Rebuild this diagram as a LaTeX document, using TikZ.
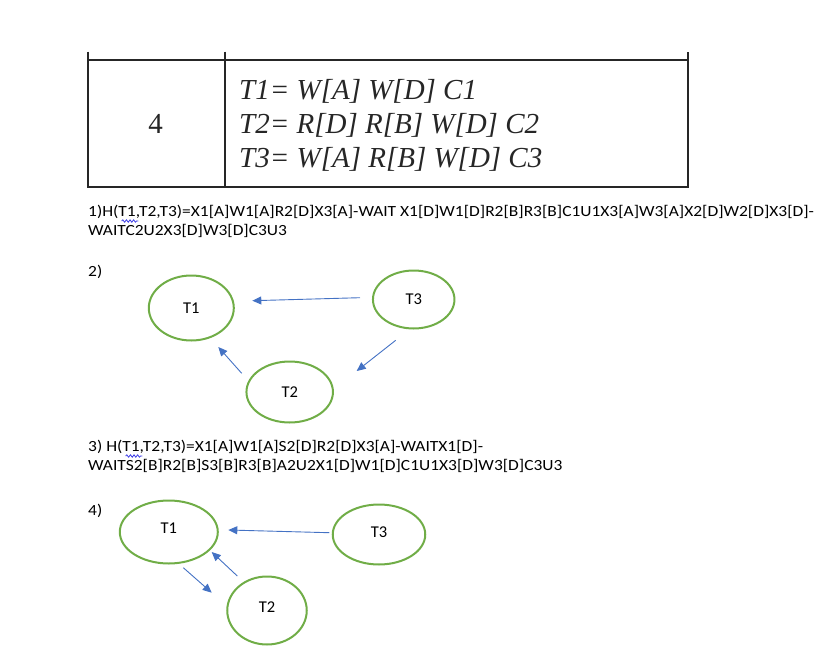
\documentclass[tikz,border=0pt]{standalone}
\usepackage{fontspec}
\setmainfont{Carlito}
\newfontfamily\calw[FakeStretch=1.125]{Carlito}
\newfontfamily\timesf{Liberation Serif}
\usetikzlibrary{shapes.geometric,arrows.meta,decorations.pathmorphing}
\definecolor{gr}{HTML}{70AD47}
\definecolor{bl}{HTML}{4472C4}
\definecolor{sq}{HTML}{3C3CE6}
\begin{document}
\begin{tikzpicture}[x=1pt,y=-1pt,
  tx/.style={anchor=base west, inner sep=0, font=\calw\fontsize{15.5}{18}\selectfont},
  tr/.style={ellipse, draw=gr, line width=2, inner sep=0, font=\fontsize{16.5}{18}\selectfont},
  arr/.style={bl, line width=0.9, -{Triangle[length=9,width=8]}},
  tbl/.style={line width=2, black!85},
  ttx/.style={anchor=base west, inner sep=0, font=\timesf\itshape\fontsize{29}{34}\selectfont, black!85},
  squig/.style={sq, line width=0.8, decorate, decoration={snake, segment length=3.6, amplitude=1.2}}
]
\useasboundingbox (0,0) rectangle (831,662);
% table
\draw[tbl] (87.5,51.5) -- (87.5,187) -- (688,187) -- (688,51.5);
\draw[tbl] (87.5,59.5) -- (688,59.5);
\draw[tbl] (224.5,51.5) -- (224.5,187);
\node[anchor=base, inner sep=0, font=\timesf\fontsize{29}{34}\selectfont, black!85] (n4) at (155.5,133.5) {4};
\node[ttx] (l1) at (239,99.5) {T1= W[A] W[D] C1};
\node[ttx] (l2) at (239,133.5) {T2= R[D] R[B] W[D] C2};
\node[ttx] (l3) at (239,167.5) {T3= W[A] R[B] W[D] C3};
% text lines
\node[tx] (h1a) at (88,216.5) {1)H(T1,T2,T3)=X1[A]W1[A]R2[D]X3[A]-WAIT X1[D]W1[D]R2[B]R3[B]C1U1X3[A]W3[A]X2[D]W2[D]X3[D]-};
\node[tx] (h1b) at (88,235.5) {WAITC2U2X3[D]W3[D]C3U3};
\draw[squig] (121.7,221) -- (138.3,221);
\node[tx] (lab2) at (88,276) {2)};
% graph 1
\node[tr, minimum width=85, minimum height=65] (a1) at (191.3,308) {T1};
\node[tr, minimum width=81.5, minimum height=58] (a3) at (413.7,299.5) {T3};
\node[tr, minimum width=86.5, minimum height=61] (a2) at (289.7,392) {T2};
\coordinate (p1s) at (360,297.7); \coordinate (p1e) at (252.3,300.7);
\coordinate (p2s) at (395.7,340.3); \coordinate (p2e) at (356.7,371);
\coordinate (p3s) at (241.7,373.3); \coordinate (p3e) at (218.3,347);
\draw[arr] (p1s) -- (p1e);
\draw[arr] (p2s) -- (p2e);
\draw[arr] (p3s) -- (p3e);
% text lines 3
\node[tx] (h3a) at (88,451.5) {3) H(T1,T2,T3)=X1[A]W1[A]S2[D]R2[D]X3[A]-WAITX1[D]-};
\node[tx] (h3b) at (88,470.5) {WAITS2[B]R2[B]S3[B]R3[B]A2U2X1[D]W1[D]C1U1X3[D]W3[D]C3U3};
\draw[squig] (125.7,456) -- (142.3,456);
\node[tx] (lab4) at (88,515) {4)};
% graph 2
\node[tr, text depth=7, minimum width=98, minimum height=63] (b1) at (168.8,532) {T1};
\node[tr, text depth=4, minimum width=92.5, minimum height=60] (b3) at (379,534.5) {T3};
\node[tr, text depth=7, minimum width=79.5, minimum height=68] (b2) at (267,610.5) {T2};
\coordinate (q1s) at (329.3,532.7); \coordinate (q1e) at (228.3,530);
\coordinate (q2s) at (183.3,567.7); \coordinate (q2e) at (211.7,592.7);
\coordinate (q3s) at (237.3,576); \coordinate (q3e) at (211.7,552);
\draw[arr] (q1s) -- (q1e);
\draw[arr] (q2s) -- (q2e);
\draw[arr] (q3s) -- (q3e);
\end{tikzpicture}
\end{document}
